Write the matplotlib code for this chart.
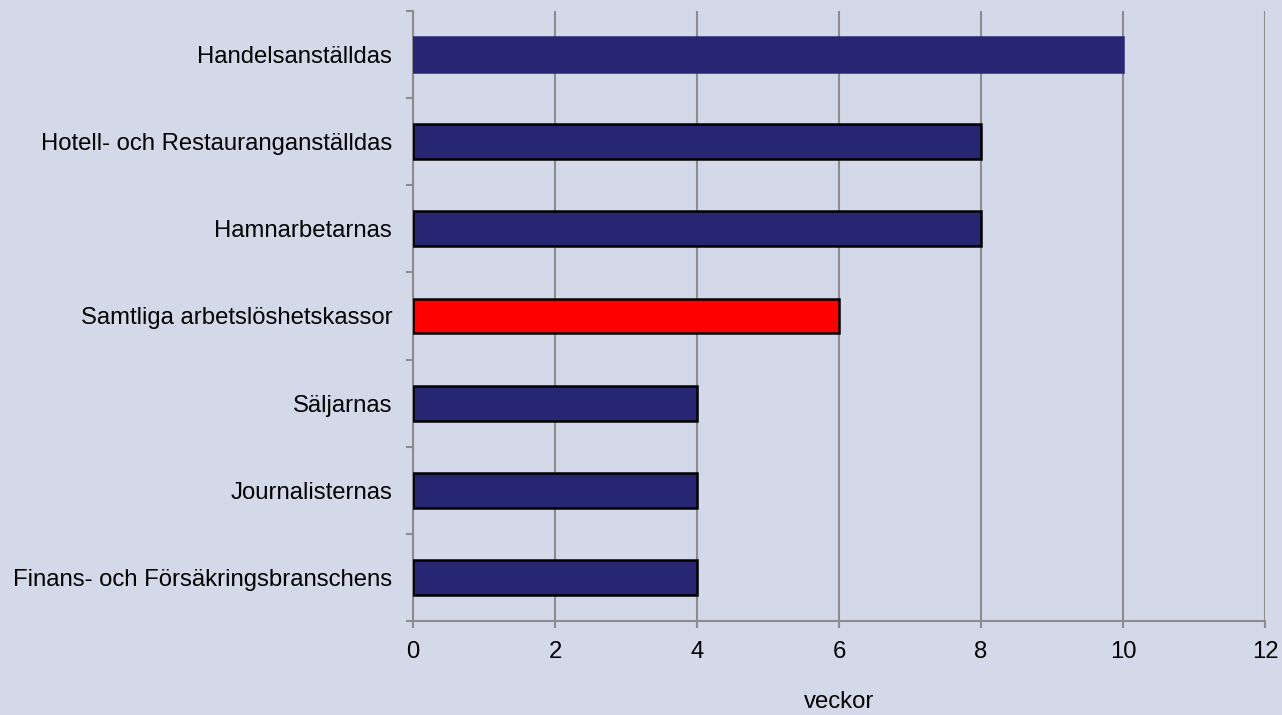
import matplotlib.pyplot as plt
import numpy as np

plt.rcParams['font.family'] = ['Liberation Sans', 'DejaVu Sans']

kassor = ['Finans- och Försäkringsbranschens', 'Journalisternas', 'Säljarnas',
          'Samtliga arbetslöshetskassor', 'Hamnarbetarnas',
          'Hotell- och Restauranganställdas', 'Handelsanställdas']
veckor = [4, 4, 4, 6, 8, 8, 10]
xticks = [0, 2, 4, 6, 8, 10, 12]

bg = '#D4D9EA'
navy = '#262673'
grid_c = '#8C8C8C'
fs = 17.2

fig = plt.figure(figsize=(12.82, 7.15), dpi=100, facecolor=bg)
ax = fig.add_axes([0.3222, 0.1315, 0.6645, 0.8531])
ax.set_facecolor(bg)

y = np.arange(len(kassor))
farger = [navy] * len(kassor)
farger[kassor.index('Samtliga arbetslöshetskassor')] = '#FF0000'
kanter = ['black'] * len(kassor)
kanter[-1] = navy
ax.barh(y, veckor, height=0.4, color=farger, edgecolor=kanter,
        linewidth=1.8, zorder=3)

ax.set_xlim(0, 12)
ax.set_ylim(-0.5, len(kassor) - 0.5)
ax.set_xticks(xticks)
ax.set_xticklabels([str(t) for t in xticks], fontsize=fs)
ax.set_yticks(y)
ax.set_yticklabels(kassor, fontsize=fs)
ax.set_yticks(np.arange(-0.5, len(kassor), 1), minor=True)

ax.tick_params(axis='y', which='major', length=0, pad=15)
ax.tick_params(axis='y', which='minor', length=5, width=1.5, color=grid_c)
ax.tick_params(axis='x', length=5, width=1.5, color=grid_c, pad=9.5)

ax.grid(axis='x', color=grid_c, linewidth=1.5, zorder=0)
for s in ['top', 'right']:
    ax.spines[s].set_visible(False)
for s in ['left', 'bottom']:
    ax.spines[s].set_color(grid_c)
    ax.spines[s].set_linewidth(1.5)

ax.set_xlabel('veckor', fontsize=fs, labelpad=20)

fig.savefig('out.png', dpi=100, facecolor=bg)
